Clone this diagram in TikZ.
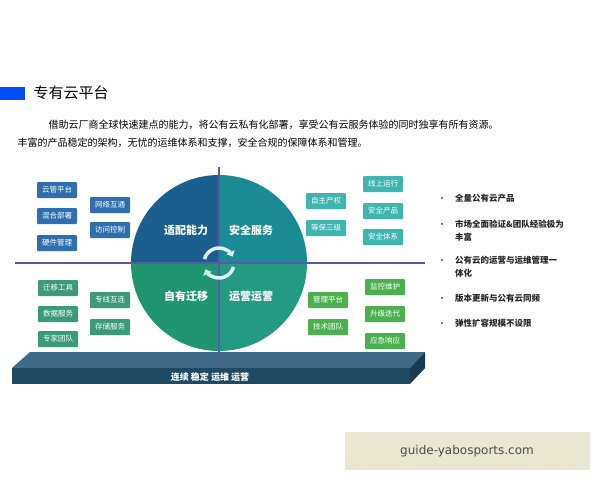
\documentclass[tikz,border=0pt]{standalone}
\usepackage{fontspec}
\setmainfont{Noto Sans CJK SC}
\newfontfamily\wm{DejaVu Sans}
\usetikzlibrary{arrows.meta}
\definecolor{qa}{HTML}{1B5F8F}
\definecolor{qb}{HTML}{1A8A94}
\definecolor{qc}{HTML}{1F9670}
\definecolor{qd}{HTML}{239A82}
\definecolor{bb}{HTML}{2F6FB0}
\definecolor{bg}{HTML}{3A9A7A}
\definecolor{bt}{HTML}{3FB5B0}
\definecolor{bl}{HTML}{4CAF50}
\definecolor{pl}{HTML}{1F4A66}
\definecolor{pt}{HTML}{3D6A86}
\definecolor{wmbg}{HTML}{E9E7D2}
\tikzset{
 box/.style={fill=#1,text=white,minimum width=40pt,minimum height=16pt,inner sep=1pt,font=\fontsize{7.5}{8}\selectfont,rounded corners=1pt},
 ql/.style={text=white,font=\bfseries\fontsize{11}{12}\selectfont},
 bul/.style={anchor=north west,align=left,font=\bfseries\fontsize{8.5}{13}\selectfont,text=black!85,inner sep=0pt},
}
\begin{document}
\begin{tikzpicture}[x=1pt,y=-1pt]
\useasboundingbox (0,0) rectangle (600,480);
\fill[white] (0,0) rectangle (600,480);
% title
\fill[blue!70!cyan] (0,87) rectangle (25,100);
\node[anchor=west,font=\fontsize{15}{16}\selectfont] (title) at (30,93) {专有云平台};
\node[anchor=west,font=\fontsize{10}{11}\selectfont] (p1) at (45,125) {借助云厂商全球快速建点的能力，将公有云私有化部署，享受公有云服务体验的同时独享有所有资源。};
\node[anchor=west,font=\fontsize{10}{11}\selectfont] (p2) at (14,143) {丰富的产品稳定的架构，无忧的运维体系和支撑，安全合规的保障体系和管理。};
% platform
\fill[pt] (30,352) -- (425,352) -- (410,368) -- (12,368) -- cycle;
\fill[pl] (12,368) rectangle (410,384);
\fill[pl!80!black] (410,368) -- (425,352) -- (425,368) -- (410,384) -- cycle;
% circle quadrants
\begin{scope}
\clip (219,263) circle[radius=88];
\fill[qa] (120,160) rectangle (219,263);
\fill[qb] (219,160) rectangle (320,263);
\fill[qc] (120,263) rectangle (219,360);
\fill[qd] (219,263) rectangle (320,360);
\end{scope}
% axes
\draw[gray!70!blue,line width=1.2pt] (219,167) -- (219,366);
\draw[gray!70!blue,line width=1.2pt] (15,263) -- (425,263);
% center arcs
\begin{scope}[shift={(219,263)},y=1pt]
\draw[cyan!15,line width=3.5pt,-{Triangle[length=5pt,width=9pt]}] (165:15) arc[start angle=165,end angle=25,radius=15];
\draw[cyan!15,line width=3.5pt,-{Triangle[length=5pt,width=9pt]}] (-15:15) arc[start angle=-15,end angle=-155,radius=15];
\end{scope}
\node[ql] (n1) at (186,230) {适配能力};
\node[ql] (n2) at (251,230) {安全服务};
\node[ql] (n3) at (186,296) {自有迁移};
\node[ql] (n4) at (251,296) {运营运营};
\node[text=white,font=\bfseries\fontsize{9}{10}\selectfont] (base) at (210,377) {连续 稳定 运维 运营};
% left boxes
\node[box=bb] (a1) at (57,190) {云管平台};
\node[box=bb] (a2) at (57,216) {混合部署};
\node[box=bb] (a3) at (57,243) {硬件管理};
\node[box=bb] (a4) at (110,205) {网络互通};
\node[box=bb] (a5) at (110,230) {访问控制};
\node[box=bg] (b1) at (58,288) {迁移工具};
\node[box=bg] (b2) at (58,314) {数据服务};
\node[box=bg] (b3) at (58,339) {专家团队};
\node[box=bg] (b4) at (110,300) {专线互连};
\node[box=bg] (b5) at (110,327) {存储服务};
% right boxes
\node[box=bt] (c1) at (326,201) {自主产权};
\node[box=bt] (c2) at (326,228) {等保三级};
\node[box=bt] (c3) at (383,184) {线上运行};
\node[box=bt] (c4) at (383,211) {安全产品};
\node[box=bt] (c5) at (383,237) {安全体系};
\node[box=bl] (d1) at (328,300) {管理平台};
\node[box=bl] (d2) at (328,327) {技术团队};
\node[box=bl] (d3) at (385,287) {监控维护};
\node[box=bl] (d4) at (385,314) {升级迭代};
\node[box=bl] (d5) at (385,341) {应急响应};
% bullets
\foreach \y/\t [count=\i] in {194/全量公有云产品,220/{市场全面验证\&团队经验极为\\丰富},256/{公有云的运营与运维管理一\\体化},294/版本更新与公有云同频,319/弹性扩容规模不设限}{
 \node[font=\fontsize{8}{8}\selectfont] (dot\i) at (442,\y+6) {•};
 \node[bul] (t\i) at (455,\y) {\t};
}
% watermark
\fill[wmbg] (345,432) rectangle (590,470);
\node[font=\wm\fontsize{12}{13}\selectfont,text=black!70] (wm) at (467,451) {guide-yabosports.com};
\end{tikzpicture}
\end{document}
